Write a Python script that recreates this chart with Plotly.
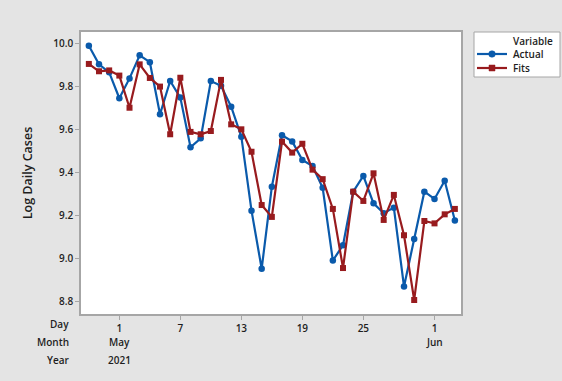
import pandas as pd
import plotly.graph_objects as go

# Daily observations, 28 Apr 2021 - 3 Jun 2021
dates = pd.date_range("2021-04-28", "2021-06-03", freq="D")

actual = [9.987, 9.901, 9.864, 9.744, 9.836, 9.943, 9.911, 9.670, 9.824, 9.747,
          9.517, 9.558, 9.824, 9.802, 9.705, 9.566, 9.223, 8.954, 9.334, 9.572,
          9.544, 9.458, 9.430, 9.329, 8.992, 9.063, 9.311, 9.384, 9.257, 9.211,
          9.237, 8.871, 9.092, 9.311, 9.277, 9.362, 9.177]

fits = [9.903, 9.869, 9.873, 9.849, 9.700, 9.901, 9.838, 9.798, 9.577, 9.839,
        9.588, 9.577, 9.592, 9.829, 9.623, 9.600, 9.496, 9.249, 9.194, 9.543,
        9.492, 9.533, 9.413, 9.369, 9.231, 8.957, 9.311, 9.268, 9.396, 9.180,
        9.296, 9.109, 8.809, 9.175, 9.164, 9.206, 9.231]

day_ticks = ["2021-05-01", "2021-05-07", "2021-05-13", "2021-05-19", "2021-05-25", "2021-06-01"]
day_labels = ["1", "7", "13", "19", "25", "1"]
month_ticks = ["2021-05-01", "2021-06-01"]
month_labels = ["May", "Jun"]
year_ticks = ["2021-05-01"]
year_labels = ["2021"]
y_ticks = [8.8, 9.0, 9.2, 9.4, 9.6, 9.8, 10.0]

series_names = ["Actual", "Fits"]
legend_title = "Variable"

BLUE = "#0a5aab"
RED = "#981b1e"
BG = "#e4e4e4"
AXIS = "#a6a6a6"
TXT = "#1e1e1e"
FONT = "Open Sans"

W, H = 562, 381
ML, MR, MT, MB = 81, 101, 32, 67
PW, PH = W - ML - MR, H - MT - MB


def px_x(px):
    """Horizontal pixel position -> paper coordinate."""
    return (px - ML) / PW


def px_y(py):
    """Vertical pixel position (from top) -> paper coordinate."""
    return (H - MB - py) / PH


fig = go.Figure()
fig.add_trace(go.Scatter(
    x=dates, y=actual, name=series_names[0], mode="lines+markers",
    line=dict(color=BLUE, width=2.2),
    marker=dict(symbol="circle", size=6.5, color=BLUE),
))
fig.add_trace(go.Scatter(
    x=dates, y=fits, name=series_names[1], mode="lines+markers",
    line=dict(color=RED, width=2.2),
    marker=dict(symbol="square", size=6, color=RED),
))

fig.update_layout(
    width=W, height=H,
    margin=dict(l=ML, r=MR, t=MT, b=MB),
    paper_bgcolor=BG, plot_bgcolor="white",
    font=dict(family=FONT, size=10, color=TXT, weight=600),
    showlegend=False,
    xaxis=dict(
        type="date",
        range=["2021-04-27 05:30", "2021-06-03 14:30"],
        tickvals=day_ticks, ticktext=day_labels,
        ticks="outside", ticklen=4, tickcolor=AXIS,
        showgrid=False, zeroline=False,
        showline=True, linecolor=AXIS, linewidth=1.5, mirror=True,
        tickfont=dict(size=10, weight=600),
    ),
    yaxis=dict(
        range=[8.744, 10.051],
        tickvals=y_ticks, tickformat=".1f",
        ticks="outside", ticklen=4, tickcolor=AXIS,
        showgrid=False, zeroline=False,
        showline=True, linecolor=AXIS, linewidth=1.5, mirror=True,
        tickfont=dict(size=10, weight=600),
        title=dict(text="Log Daily Cases", font=dict(size=12.5, weight=600), standoff=18),
    ),
)

# Row captions for the multi-level time scale
for label, dy in [("Day", -10), ("Month", -28), ("Year", -46)]:
    fig.add_annotation(
        text=label, xref="paper", yref="paper", x=0, y=0,
        xanchor="right", yanchor="middle", xshift=-10, yshift=dy,
        showarrow=False, font=dict(size=10, weight=600),
    )

# Month and year rows beneath the day ticks
for xs, labels, dy in [(month_ticks, month_labels, -28), (year_ticks, year_labels, -46)]:
    for xv, lab in zip(xs, labels):
        fig.add_annotation(
            text=lab, xref="x", yref="paper", x=xv, y=0,
            xanchor="center", yanchor="middle", yshift=dy,
            showarrow=False, font=dict(size=10, weight=600),
        )

# Compact legend box to the right of the plot
fig.add_shape(
    type="rect", xref="paper", yref="paper",
    x0=px_x(474), x1=px_x(560), y0=px_y(77), y1=px_y(32),
    fillcolor="white", line=dict(color=AXIS, width=1), layer="above",
)
fig.add_annotation(
    text=legend_title, xref="paper", yref="paper", x=px_x(511), y=px_y(41),
    xanchor="left", yanchor="middle", showarrow=False, font=dict(size=10, weight=600),
)
for name, color, symbol, ypx in [(series_names[0], BLUE, "circle", 54),
                                 (series_names[1], RED, "rect", 68)]:
    fig.add_shape(
        type="line", xref="paper", yref="paper",
        x0=px_x(477), x1=px_x(507), y0=px_y(ypx), y1=px_y(ypx),
        line=dict(color=color, width=2.2), layer="above",
    )
    s = 3.3 if symbol == "circle" else 3
    fig.add_shape(
        type=symbol, xref="paper", yref="paper",
        xsizemode="pixel", ysizemode="pixel",
        xanchor=px_x(492), yanchor=px_y(ypx),
        x0=-s, x1=s, y0=-s, y1=s,
        fillcolor=color, line=dict(color=color, width=0.5), layer="above",
    )
    fig.add_annotation(
        text=name, xref="paper", yref="paper", x=px_x(511), y=px_y(ypx),
        xanchor="left", yanchor="middle", showarrow=False, font=dict(size=10, weight=600),
    )

fig.write_html("out.html")
